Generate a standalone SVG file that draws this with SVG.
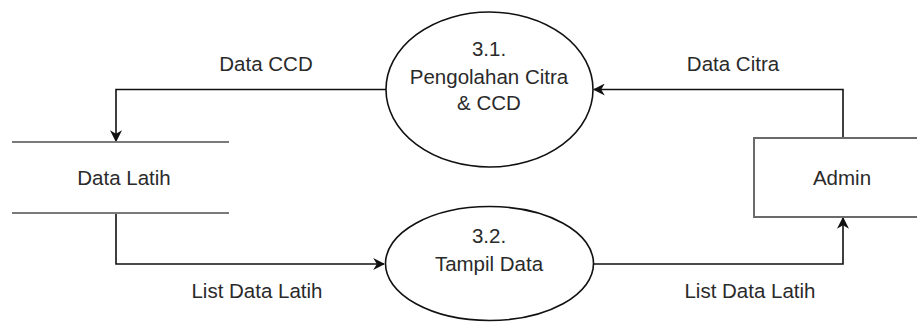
<svg xmlns="http://www.w3.org/2000/svg" width="917" height="322" viewBox="0 0 917 322">
  <style>
    .lbl { font-family: "Liberation Sans", Arial, sans-serif; font-size: 20.5px; fill: #2a2a2a; text-anchor: middle; }
    .proc { fill: #ffffff; stroke: #111111; stroke-width: 1.6; }
    .store { stroke: #7a7a7a; stroke-width: 2.2; fill: none; }
    .ent { fill: #ffffff; stroke: #6a6a6a; stroke-width: 2; }
    .flow { fill: none; stroke: #111111; stroke-width: 1.6; marker-end: url(#arrow); }
  </style>
  <defs>
    <marker id="arrow" viewBox="0 0 10 10" refX="9" refY="5" markerWidth="12" markerHeight="12" markerUnits="userSpaceOnUse" orient="auto">
      <path d="M0,0 L10,5 L0,10 L3,5 Z" fill="#111111"/>
    </marker>
  </defs>
  <rect width="917" height="322" fill="#ffffff"/>

  <!-- data flows -->
  <g id="connectors">
    <path class="flow" d="M386,89.5 H116 V141"/>
    <path class="flow" d="M843,138 V89.5 H594"/>
    <path class="flow" d="M116,213 V264 H384"/>
    <path class="flow" d="M594,264 H843 V218"/>
    <text class="lbl" x="266" y="71">Data CCD</text>
    <text class="lbl" x="733" y="71">Data Citra</text>
    <text class="lbl" x="257" y="298">List Data Latih</text>
    <text class="lbl" x="750" y="298">List Data Latih</text>
  </g>

  <!-- process 3.1 -->
  <g id="proc-3-1">
    <ellipse class="proc" cx="489.5" cy="89.5" rx="103.5" ry="77.5"/>
    <text class="lbl" x="489" y="56">3.1.</text>
    <text class="lbl" x="489" y="84">Pengolahan Citra</text>
    <text class="lbl" x="489" y="110">&amp; CCD</text>
  </g>

  <!-- process 3.2 -->
  <g id="proc-3-2">
    <ellipse class="proc" cx="489.5" cy="263.5" rx="104" ry="57"/>
    <text class="lbl" x="489" y="243">3.2.</text>
    <text class="lbl" x="489" y="271">Tampil Data</text>
  </g>

  <!-- data store -->
  <g id="store-data-latih">
    <line class="store" x1="12" y1="142" x2="229" y2="142"/>
    <line class="store" x1="12" y1="213" x2="229" y2="213"/>
    <text class="lbl" x="124" y="185">Data Latih</text>
  </g>

  <!-- external entity -->
  <g id="entity-admin">
    <rect class="ent" x="754" y="138" width="180" height="79"/>
    <text class="lbl" x="842" y="185">Admin</text>
  </g>
</svg>
